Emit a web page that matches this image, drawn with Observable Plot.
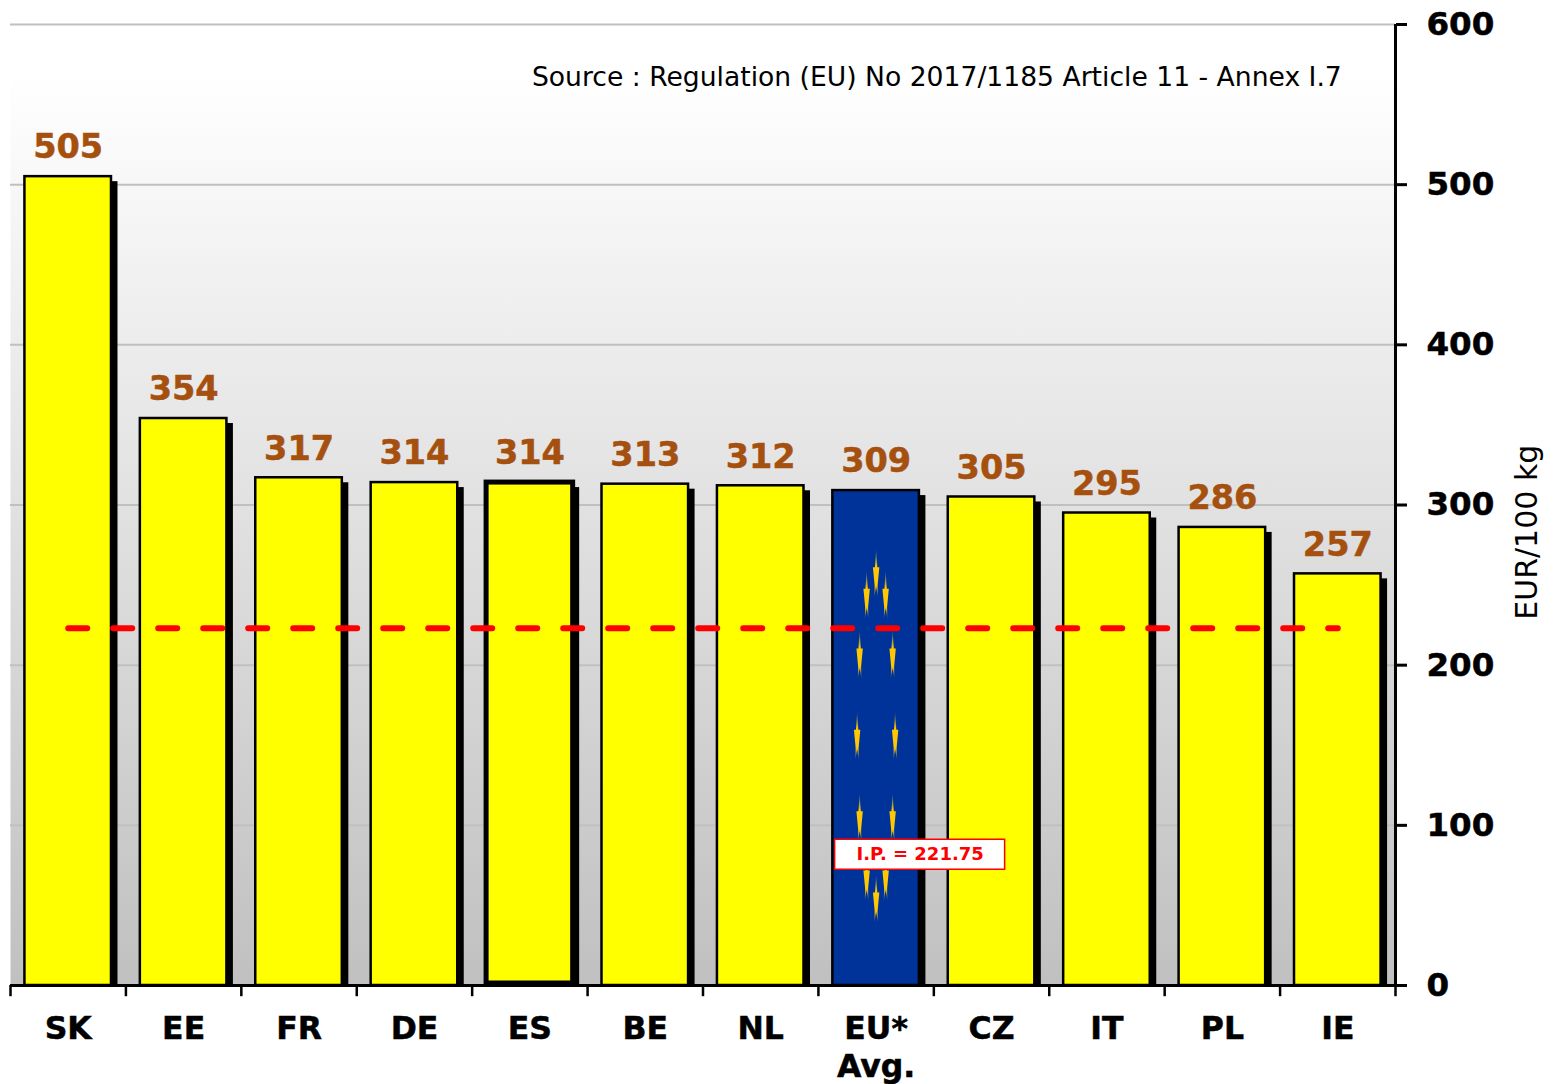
<!DOCTYPE html>
<html><head><meta charset="utf-8">
<script src="https://cdn.jsdelivr.net/npm/d3@7"></script>
<script src="https://cdn.jsdelivr.net/npm/@observablehq/plot@0.6"></script>
<style>html,body{margin:0;padding:0;background:#fff}svg{display:block}
g[aria-label$="tick label"]{stroke:#000;stroke-width:.5px;paint-order:stroke}</style>
</head><body><div id="chart"></div>
<script>
const countries = ["SK","EE","FR","DE","ES","BE","NL","EU*","CZ","IT","PL","IE"];
const prices = [505,354,317,314,314,313,312,309,305,295,286,257];
const interventionPrice = 221.75;
const ipLabel = "I.P. = 221.75";
const sourceNote = "Source : Regulation (EU) No 2017/1185 Article 11 - Annex I.7";
const yTitle = "EUR/100 kg";
const starLevels = [
  {v:257.4, off:0},{v:244,off:9.5},{v:206.7,off:16.5},{v:156,off:19},
  {v:105,off:16.5},{v:68,off:9.5},{v:54.3,off:0}
];
const rows = countries.map((c,i)=>({c,v:prices[i]}));
const BROWN = "#a5500f";
const step = 1385/12;

const needle = {draw(ctx){
  ctx.moveTo(0,-24); ctx.lineTo(1.2,-6); ctx.lineTo(3.2,-6); ctx.lineTo(1.5,12);
  ctx.lineTo(1.8,24); ctx.lineTo(0,14); ctx.lineTo(-1.8,24); ctx.lineTo(-1.5,12);
  ctx.lineTo(-3.2,-6); ctx.lineTo(-1.2,-6); ctx.closePath();
}};
const boxSym = {draw(ctx){ ctx.rect(-85,-15,170,30); }};

function defs(){
  const s = d3.create("svg:defs");
  const g = s.append("linearGradient").attr("id","bg").attr("x1",0).attr("x2",0).attr("y1",0).attr("y2",1);
  g.append("stop").attr("offset","0").attr("stop-color","#ffffff");
  g.append("stop").attr("offset","0.05").attr("stop-color","#ffffff");
  g.append("stop").attr("offset","1").attr("stop-color","#c0c0c0");
  const n = s.append("linearGradient").attr("id","star").attr("x1",0).attr("x2",0).attr("y1",0).attr("y2",1);
  n.append("stop").attr("offset","0").attr("stop-color","#ffc800").attr("stop-opacity","0.15");
  n.append("stop").attr("offset","0.36").attr("stop-color","#ffc800");
  n.append("stop").attr("offset","0.75").attr("stop-color","#ffc800");
  n.append("stop").attr("offset","1").attr("stop-color","#ffc800").attr("stop-opacity","0.15");
  const f = s.append("filter").attr("id","soft").attr("x","-10%").attr("width","120%");
  f.append("feGaussianBlur").attr("stdDeviation","0.8");
  return s.node();
}

const starMarks = [];
for (const st of starLevels) {
  for (const sign of (st.off ? [-1,1] : [1])) {
    starMarks.push(Plot.dot([st], {x:()=>"EU*", y:"v", dx:sign*st.off, symbol:needle, fill:"url(#star)", stroke:"none"}));
  }
}

const chart = Plot.plot({
  width:1560, height:1084,
  marginLeft:10, marginRight:165, marginTop:24, marginBottom:99,
  style:{fontFamily:"'DejaVu Sans', Verdana, sans-serif", background:"#fff", overflow:"visible"},
  x:{domain:countries, paddingInner:0.25, paddingOuter:0.125, round:false, label:null},
  y:{domain:[0,600], label:null},
  marks:[
    defs,
    Plot.frame({fill:"url(#bg)", stroke:"none"}),
    Plot.gridY([0,100,200,300,400,500,600], {stroke:"#c0c0c0", strokeOpacity:1, strokeWidth:2}),
    Plot.barY(rows, {x:"c", y1:0, y2:"v", fill:"#000", dx:6.5, insetTop:5, style:{filter:"url(#soft)"}}),
    Plot.barY(rows.filter(d=>d.c!=="ES"), {x:"c", y:"v", fill:d=>d.c==="EU*"?"#003399":"#ffff00", stroke:"#000", strokeWidth:2.5}),
    Plot.barY(rows.filter(d=>d.c==="ES"), {x:"c", y:"v", fill:"#ffff00", stroke:"#000", strokeWidth:5, insetBottom:2}),
    ...starMarks,
    Plot.line([countries[0],countries[countries.length-1]], {x:d=>d, y:()=>interventionPrice, dy:-2, stroke:"#ff0000", strokeWidth:6, strokeDasharray:"19 26", strokeLinecap:"round"}),
    Plot.dot([ipLabel], {x:()=>"EU*", y:()=>82, dx:43.5, symbol:boxSym, fill:"#fff", stroke:"#ff0000", strokeWidth:1.5}),
    Plot.text([ipLabel], {x:()=>"EU*", y:()=>82, dx:44, text:d=>d, fill:"#ff0000", fontWeight:"bold", fontSize:18}),
    Plot.text(rows, {x:"c", y:"v", text:d=>String(d.v), dy:-29, fill:BROWN, stroke:BROWN, strokeWidth:0.5, fontWeight:"bold", fontSize:33.5}),
    Plot.text([sourceNote], {x:()=>"IE", y:()=>567, dx:4, text:d=>d, textAnchor:"end", fontSize:26.6, fill:"#000"}),
    Plot.text([yTitle], {x:()=>"IE", y:()=>283, dx:190, text:d=>d, rotate:-90, fontSize:30, fill:"#000"}),
    Plot.ruleY([0], {stroke:"#000", strokeWidth:3}),
    Plot.ruleX(["IE"], {x:d=>d, y1:0, y2:600, dx:step/2, stroke:"#000", strokeWidth:3}),
    Plot.ruleX(countries, {x:d=>d, y1:0, y2:-7, dx:-step/2, stroke:"#000", strokeWidth:2.5}),
    Plot.ruleX(["IE"], {x:d=>d, y1:0, y2:-7, dx:step/2, stroke:"#000", strokeWidth:2.5}),
    Plot.axisX({anchor:"bottom", tickSize:0, tickPadding:27, fontSize:31.5, fontWeight:"bold", lineHeight:1.2, tickFormat:d=>d==="EU*"?"EU*\nAvg.":d, label:null}),
    Plot.axisY({anchor:"right", ticks:[0,100,200,300,400,500,600], tickSize:11, tickPadding:20, fontSize:32.5, fontWeight:"bold", strokeWidth:3, label:null, tickFormat:d=>String(d)})
  ]
});
document.getElementById("chart").appendChild(chart);
</script></body></html>
